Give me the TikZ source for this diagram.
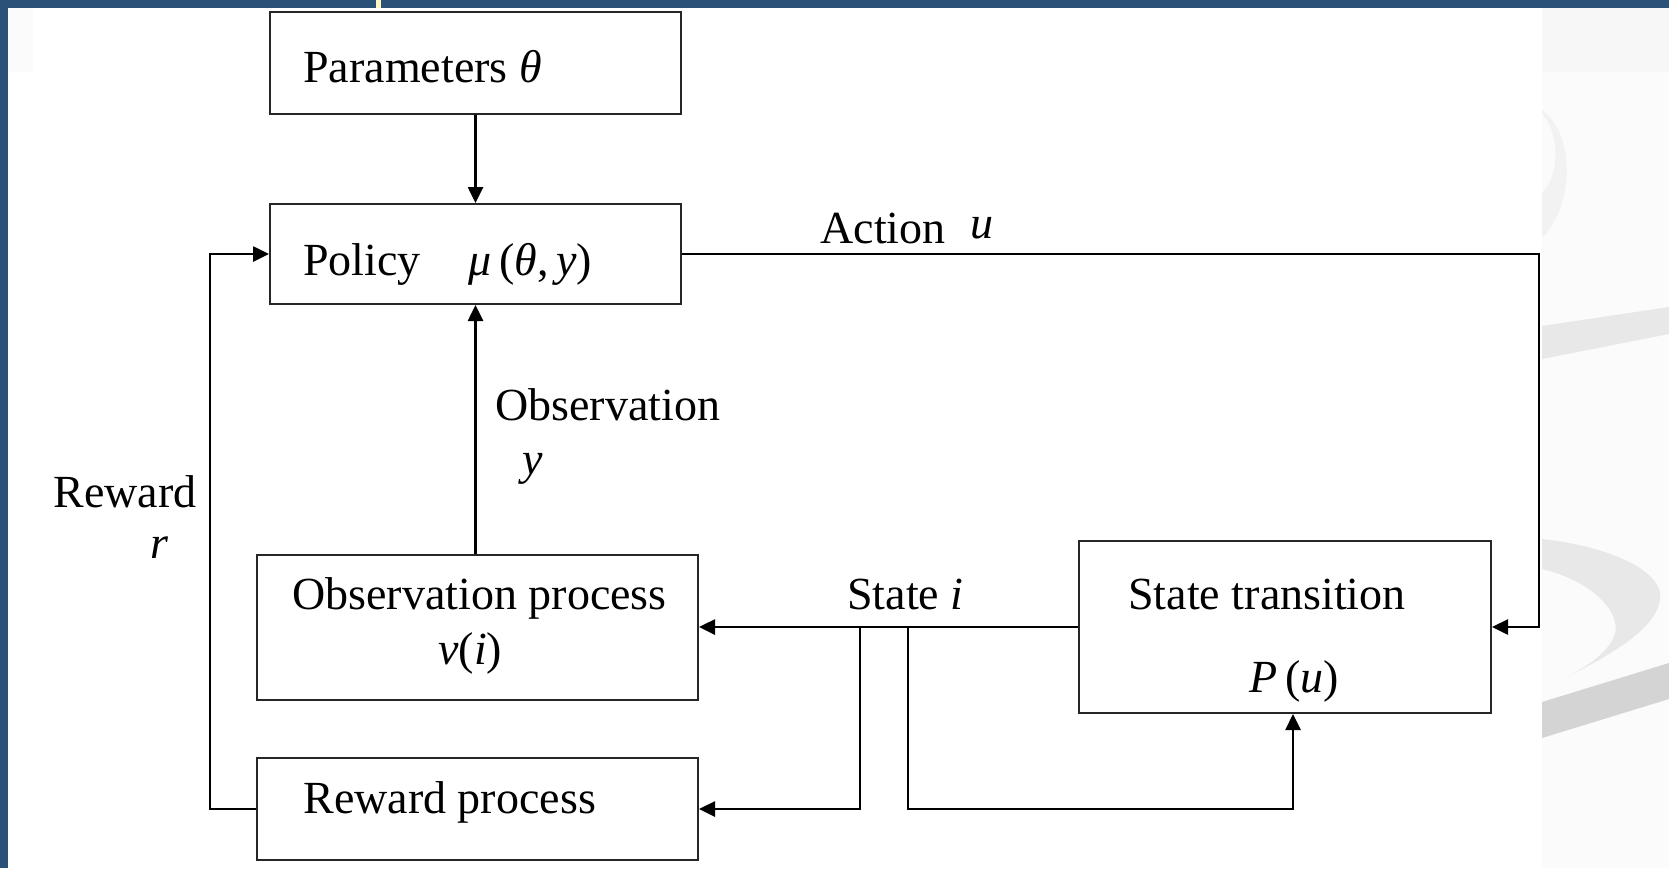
\documentclass[tikz,border=0pt]{standalone}
\usepackage{fontspec}
\setmainfont{Liberation Serif}
\usetikzlibrary{arrows.meta}
\definecolor{frameblue}{HTML}{2A5279}
\definecolor{sliver}{HTML}{FFF6C4}

\begin{document}
\begin{tikzpicture}[x=0.5pt, y=-0.5pt, >={Triangle[length=8pt,width=7.5pt]},
    box/.style={draw=black!85, line width=1pt, inner sep=0pt},
    txt/.style={anchor=base west, inner sep=0pt, font=\fontsize{23}{27}\selectfont},
    link/.style={->, line width=1.3pt}]
% page, frame and swooshes
\useasboundingbox (0,0) rectangle (1669,868);
\fill[white] (0,0) rectangle (1669,868);
\fill[black!1.5] (1542,8) rectangle (1669,868);
\fill[black!3] (1542,8) rectangle (1669,72);
\fill[black!1.5] (8,8) rectangle (33,72);
\fill[black!5] (1542,110) .. controls (1576,135) and (1574,205) .. (1542,238)
    -- (1542,193) .. controls (1560,175) and (1560,135) .. (1542,113) -- cycle;
\fill[black!9] (1542,326) -- (1669,307) -- (1669,334) -- (1542,359) -- cycle;
\fill[black!9] (1542,539) .. controls (1620,548) and (1665,575) .. (1660,600)
    .. controls (1655,630) and (1610,655) .. (1567,677)
    .. controls (1600,660) and (1620,640) .. (1615,622)
    .. controls (1610,600) and (1580,578) .. (1542,569) -- cycle;
\fill[black!17] (1542,702) -- (1669,663) -- (1669,699) -- (1542,738) -- cycle;
\fill[frameblue] (0,0) rectangle (1669,8);
\fill[frameblue] (0,0) rectangle (8,868);
\fill[sliver] (376,0) rectangle (381,8);

% blocks
\node[box, minimum width=205.5pt, minimum height=51pt] (params) at (475.5,63) {};
\node[box, minimum width=205.5pt, minimum height=50pt] (policy) at (475.5,254) {};
\node[box, minimum width=220.5pt, minimum height=72.5pt] (obs) at (477.5,627.5) {};
\node[box, minimum width=220.5pt, minimum height=51pt] (rew) at (477.5,809) {};
\node[box, minimum width=206pt, minimum height=86pt] (trans) at (1285,627) {};

\node[txt] (paramsT) at (303,82) {Parameters \textit{θ}};
\node[txt] (policyT) at (303,275) {Policy};
\node[txt] (policyF) at (468,275) {\textit{μ}\,(\textit{θ},\,\textit{y})};
\node[txt] (obsT) at (292,609) {Observation process};
\node[txt] (obsF) at (438,664) {\textit{ν}(\textit{i})};
\node[txt] (rewT) at (303,813) {Reward process};
\node[txt] (transT) at (1128,609) {State transition};
\node[txt] (transF) at (1249,692) {\textit{P}\,(\textit{u})};

\node[txt] (actT) at (820,243) {Action};
\node[txt] (actU) at (970,238) {\textit{u}};
\node[txt] (seeT) at (495,420) {Observation};
\node[txt] (seeY) at (522,474) {\textit{y}};
\node[txt] (rwdT) at (53,507) {Reward};
\node[txt] (rwdR) at (150,558) {\textit{r}};
\node[txt] (stT) at (847,609) {State \textit{i}};

% connectors
\coordinate (actR) at (1539,0);
\coordinate (rwdL) at (210,0);
\coordinate (sb1) at (860,627);
\coordinate (sb2) at (908,627);

\draw[link] (params) -- (policy);
\draw[link] (obs.north -| policy.south) -- (policy.south);
\draw[link] (policy.east) -- (policy.east -| actR) |- (trans.east);
\draw[link] (trans.west) -- (obs.east |- trans.west);
\draw[link] (sb1) |- (rew.east);
\draw[link] (sb2) -- (sb2 |- rew.east) -| ([xshift=4pt]trans.south);
\draw[link] (rew.west) -- (rew.west -| rwdL) |- (policy.west);
\end{tikzpicture}
\end{document}
